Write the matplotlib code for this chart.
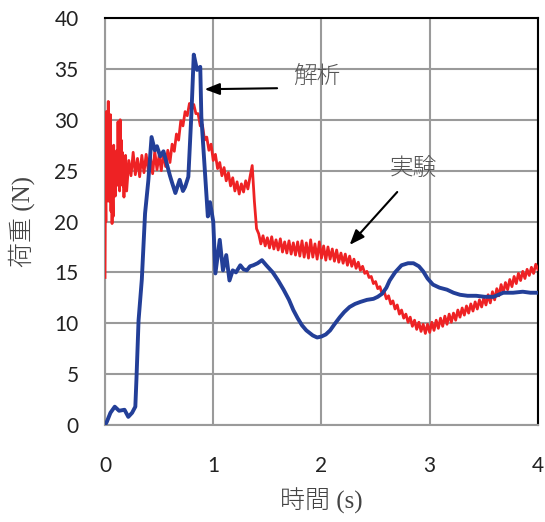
import numpy as np
import matplotlib
matplotlib.use("Agg")
import matplotlib.pyplot as plt

# --- données ----------------------------------------------------------------
# 解析 (analyse, courbe bleue)
bleu_t = [0.0, 0.016, 0.05, 0.09, 0.13, 0.18, 0.215, 0.25, 0.28, 0.29, 0.31,
          0.34, 0.37, 0.40, 0.43, 0.46, 0.48, 0.51, 0.54, 0.57, 0.60, 0.62,
          0.65, 0.69, 0.72, 0.74, 0.77, 0.80, 0.82, 0.85, 0.88, 0.89, 0.92,
          0.95, 0.97, 1.00, 1.02, 1.06, 1.09, 1.12, 1.15, 1.18, 1.21, 1.25,
          1.28, 1.31, 1.34, 1.37, 1.41, 1.45, 1.49, 1.55, 1.60, 1.65, 1.70,
          1.74, 1.78, 1.82, 1.86, 1.92, 1.96, 2.00, 2.04, 2.08, 2.12, 2.17,
          2.21, 2.26, 2.31, 2.36, 2.42, 2.48, 2.52, 2.56, 2.60, 2.63, 2.68,
          2.74, 2.80, 2.85, 2.90, 2.94, 2.98, 3.03, 3.09, 3.16, 3.22, 3.28,
          3.35, 3.43, 3.51, 3.59, 3.68, 3.77, 3.86, 3.93, 4.00]
bleu_f = [0.0, 0.3, 1.2, 1.8, 1.4, 1.5, 0.8, 1.2, 1.8, 4.4, 10.3,
          14.3, 20.8, 24.0, 28.3, 27.0, 27.4, 26.4, 26.9, 25.7, 24.5, 23.8,
          22.8, 24.1, 23.0, 23.4, 24.4, 31.0, 36.4, 34.9, 35.2, 30.3, 25.4,
          20.5, 21.9, 20.0, 14.9, 18.2, 15.2, 16.7, 14.2, 15.2, 15.0, 15.7,
          15.3, 15.2, 15.6, 15.7, 15.9, 16.2, 15.7, 15.0, 14.2, 13.3, 12.3,
          11.3, 10.5, 9.8, 9.3, 8.8, 8.6, 8.7, 8.9, 9.3, 9.9, 10.6,
          11.1, 11.6, 11.9, 12.1, 12.3, 12.4, 12.6, 12.9, 13.5, 14.2, 15.0,
          15.7, 15.9, 15.9, 15.6, 15.1, 14.4, 13.8, 13.5, 13.3, 13.0, 12.8,
          12.7, 12.7, 12.6, 12.6, 13.0, 13.0, 13.1, 13.0, 13.0]

# 実験 (expérience, courbe rouge) : début très bruité
rouge_t0 = [0.000, 0.004, 0.008, 0.012, 0.016, 0.020, 0.025, 0.030, 0.035,
            0.040, 0.045, 0.050, 0.055, 0.060, 0.065, 0.070, 0.075, 0.080,
            0.085, 0.090, 0.095, 0.100, 0.105, 0.110, 0.115, 0.120, 0.125,
            0.130, 0.135, 0.140, 0.145, 0.150, 0.155, 0.160, 0.165, 0.170,
            0.175, 0.180, 0.185, 0.190]
rouge_f0 = [14.5, 24.0, 20.0, 30.8, 22.0, 28.0, 23.5, 31.8, 22.0,
            29.5, 25.0, 30.5, 21.0, 27.0, 19.8, 24.0, 20.5, 27.5,
            23.0, 26.5, 22.5, 25.5, 23.5, 27.0, 24.0, 29.8, 24.5,
            29.5, 23.0, 30.0, 24.5, 28.0, 24.0, 26.8, 23.5, 25.8,
            22.4, 25.5, 24.0, 26.5]
# suite, un point tous les 0.02 s à partir de 0.20 s
rouge_f1 = [23.0, 26.0, 24.5, 26.8, 24.6, 26.2, 24.4, 26.5, 24.8, 26.6,
            25.0, 26.3, 24.7, 26.9, 25.1, 26.5, 25.0, 26.8, 25.4, 27.0,
            25.8, 27.6, 26.9, 28.6, 28.0, 29.9, 29.4, 30.8, 30.4, 31.6,
            31.0, 31.5, 30.6, 30.6, 29.4, 29.5, 28.0, 28.3, 27.0, 27.6,
            26.0, 26.6, 25.2, 25.8, 24.5, 25.3, 24.0, 24.8, 23.5, 24.3,
            23.0, 23.9, 22.7, 23.7, 22.9, 24.0, 23.2, 24.4, 25.5, 22.0,
            19.3, 18.8, 17.8, 18.6, 17.6, 18.4, 17.4, 18.5, 17.3, 18.2,
            17.2, 18.3, 17.0, 18.0, 16.9, 18.1, 16.8, 17.9, 16.7, 18.0,
            16.6, 18.1, 16.5, 17.9, 16.4, 18.2, 16.5, 17.8, 16.3, 18.0,
            16.4, 17.6, 16.2, 17.5, 16.3, 17.3, 16.1, 17.2, 16.0, 16.9,
            15.9, 16.8, 15.7, 16.6, 15.6, 16.3, 15.4, 16.0, 15.2, 15.6,
            14.9, 15.1, 14.5, 14.6, 13.9, 14.1, 13.4, 13.6, 12.9, 13.1,
            12.4, 12.7, 11.9, 12.2, 11.4, 11.8, 10.9, 11.3, 10.5, 10.9,
            10.1, 10.6, 9.7, 10.3, 9.4, 10.1, 9.2, 9.9, 9.0, 9.9,
            9.1, 10.1, 9.3, 10.3, 9.5, 10.5, 9.7, 10.7, 9.9, 10.9,
            10.1, 11.0, 10.3, 11.3, 10.6, 11.5, 10.8, 11.7, 11.0, 11.9,
            11.2, 12.1, 11.4, 12.3, 11.6, 12.5, 11.8, 12.8, 12.0, 13.1,
            12.3, 13.4, 12.7, 13.8, 13.0, 14.0, 13.3, 14.3, 13.6, 14.6,
            13.9, 14.9, 14.2, 15.1, 14.4, 15.3, 14.7, 15.5, 14.9, 15.8,
            15.3]
rouge_t1 = 0.20 + 0.02 * np.arange(len(rouge_f1))

rouge_t = np.concatenate([rouge_t0, rouge_t1])
rouge_f = np.concatenate([rouge_f0, rouge_f1])

x_ticks = [0, 1, 2, 3, 4]
y_ticks = [0, 5, 10, 15, 20, 25, 30, 35, 40]

# --- figure -----------------------------------------------------------------
police_jp = ["Liberation Serif", "Noto Sans CJK JP"]
gris = "#9a9a9a"

fig = plt.figure(figsize=(5.45, 5.22), dpi=100)
ax = fig.add_axes([0.1927, 0.1858, 0.7943, 0.7797])

ax.plot(rouge_t, rouge_f, color="#ee2224", linewidth=2.0, zorder=3)
ax.plot(bleu_t, bleu_f, color="#233f98", linewidth=2.8, zorder=4,
        solid_joinstyle="round")

ax.set_xlim(0, 4)
ax.set_ylim(0, 40)
ax.set_xticks(x_ticks)
ax.set_yticks(y_ticks)
ax.grid(True, color=gris, linewidth=1.5)
ax.set_axisbelow(True)
ax.tick_params(length=0, labelsize=15, labelcolor="#222222")
ax.tick_params(axis="x", pad=22)
ax.tick_params(axis="y", pad=19)
for lab in ax.get_xticklabels() + ax.get_yticklabels():
    lab.set_family("Lato")

ax.spines["left"].set_color(gris)
ax.spines["bottom"].set_color(gris)
ax.spines["left"].set_linewidth(1.5)
ax.spines["bottom"].set_linewidth(1.5)
ax.spines["top"].set_color("black")
ax.spines["right"].set_color("black")
ax.spines["top"].set_linewidth(1.5)
ax.spines["right"].set_linewidth(1.5)

ax.set_xlabel("時間 (s)", family=police_jp, fontsize=18, color="#444444",
              fontweight="light", labelpad=9)
ax.set_ylabel("荷重 (N)", family=police_jp, fontsize=18, color="#444444",
              fontweight="light", labelpad=14)

# annotations
ax.annotate("", xy=(0.92, 33.0), xytext=(1.59, 33.1),
            arrowprops=dict(arrowstyle="-|>,head_length=0.9,head_width=0.35",
                            color="black", lw=1.5, shrinkA=0, shrinkB=0))
ax.text(1.96, 34.2, "解析", family=police_jp, fontsize=17, color="#555555",
        fontweight="light", ha="center", va="center")
ax.annotate("", xy=(2.26, 17.7), xytext=(2.70, 22.9),
            arrowprops=dict(arrowstyle="-|>,head_length=0.9,head_width=0.35",
                            color="black", lw=1.5, shrinkA=0, shrinkB=0))
ax.text(2.85, 25.2, "実験", family=police_jp, fontsize=17, color="#555555",
        fontweight="light", ha="center", va="center")

plt.savefig("out.png", dpi=100)
